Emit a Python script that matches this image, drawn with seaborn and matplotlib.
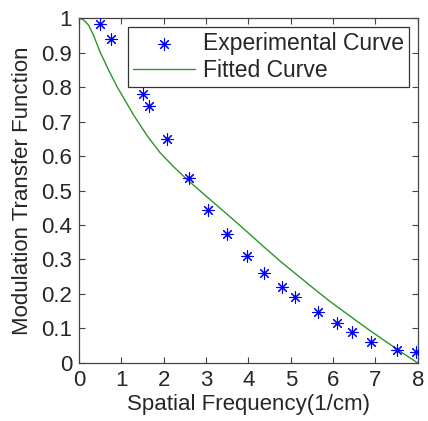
import seaborn as sns
import matplotlib
matplotlib.use("Agg")
import matplotlib.pyplot as plt
import pandas as pd

# measured points
exp_freq = [0.50, 0.76, 1.50, 1.64, 2.07, 2.59, 3.05, 3.50, 3.97, 4.37, 4.79, 5.11,
            5.64, 6.09, 6.44, 6.89, 7.50, 7.95]
exp_mtf = [0.983, 0.939, 0.779, 0.745, 0.648, 0.536, 0.443, 0.373, 0.311, 0.261, 0.221, 0.192,
           0.147, 0.115, 0.089, 0.062, 0.038, 0.032]

# fitted curve
fit_freq = [0.0, 0.1, 0.22, 0.34, 0.5, 0.7, 0.9, 1.1, 1.28, 1.6, 1.91, 2.23, 2.55, 2.94,
            3.3, 3.6, 3.96, 4.36, 4.75, 5.15, 5.54, 5.93, 6.33, 6.8, 7.2, 7.59, 7.8, 8.0]
fit_mtf = [1.0, 0.995, 0.98, 0.95, 0.90, 0.848, 0.80, 0.758, 0.72, 0.66, 0.61, 0.569, 0.532, 0.49,
           0.452, 0.42, 0.381, 0.337, 0.295, 0.255, 0.216, 0.178, 0.142, 0.10, 0.066, 0.033, 0.016, 0.0]

xticks = [0, 1, 2, 3, 4, 5, 6, 7, 8]
yticks = [0, 0.1, 0.2, 0.3, 0.4, 0.5, 0.6, 0.7, 0.8, 0.9, 1]
ytick_labels = ["0", "0.1", "0.2", "0.3", "0.4", "0.5", "0.6", "0.7", "0.8", "0.9", "1"]

exp_df = pd.DataFrame({"freq": exp_freq, "mtf": exp_mtf})
fit_df = pd.DataFrame({"freq": fit_freq, "mtf": fit_mtf})

sns.set_style("ticks")
plt.rcParams["font.family"] = ["Liberation Sans", "DejaVu Sans"]
plt.rcParams["xtick.direction"] = "in"
plt.rcParams["ytick.direction"] = "in"

fig, ax = plt.subplots(figsize=(4.28, 4.21), dpi=100)
fig.subplots_adjust(left=0.185, right=0.976, top=0.957, bottom=0.138)

sns.scatterplot(data=exp_df, x="freq", y="mtf", ax=ax, marker=(8, 2, 0), color="blue",
                s=65, linewidth=0.8, label="Experimental Curve", zorder=3)
sns.lineplot(data=fit_df, x="freq", y="mtf", ax=ax, color="#2a962a", linewidth=1.0,
             label="Fitted Curve", sort=False)

ax.set_xlim(0, 8)
ax.set_ylim(0, 1)
ax.set_xticks(xticks)
ax.set_xticklabels([str(t) for t in xticks])
ax.set_yticks(yticks)
ax.set_yticklabels(ytick_labels)
ax.tick_params(labelsize=16, length=4, width=0.8, color="#444444", top=True, right=True)
ax.tick_params(axis="x", pad=5)
ax.tick_params(axis="y", pad=5)
for s in ax.spines.values():
    s.set_visible(True)
    s.set_color("#444444")
    s.set_linewidth(0.9)

ax.set_xlabel("Spatial Frequency(1/cm)", fontsize=16, labelpad=2)
ax.set_ylabel("Modulation Transfer Function", fontsize=16, labelpad=6)

leg = ax.legend(loc="upper right", fontsize=16.5, frameon=True, fancybox=False, edgecolor="#333333",
                framealpha=1, borderpad=0.2, labelspacing=0.2, handlelength=2.7,
                handletextpad=0.35, borderaxespad=0.4)
leg.get_frame().set_linewidth(0.9)

plt.savefig("out.png", dpi=100)
